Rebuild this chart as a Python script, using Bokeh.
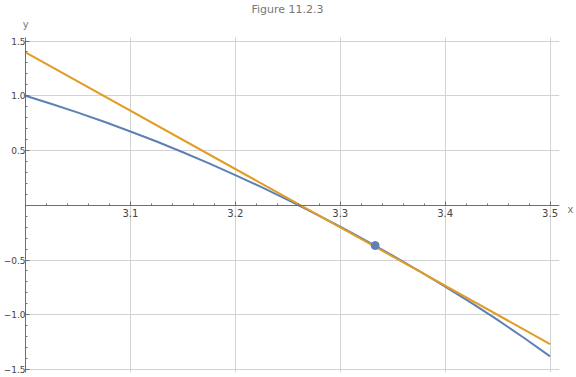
from bokeh.plotting import figure
from bokeh.models import Range1d, FixedTicker, Title, LinearAxis
from bokeh.embed import file_html
from bokeh.resources import INLINE

# ---- data ----
curve_x = [3.0, 3.025, 3.05, 3.075, 3.1, 3.125, 3.15, 3.175, 3.2, 3.225, 3.25,
           3.275, 3.3, 3.325, 3.35, 3.375, 3.4, 3.425, 3.45, 3.475, 3.5]
curve_y = [1.0, 0.925, 0.846, 0.763, 0.674, 0.582, 0.484, 0.382, 0.276, 0.165, 0.049,
           -0.072, -0.196, -0.326, -0.460, -0.598, -0.742, -0.891, -1.047, -1.210, -1.380]
tangent_x = [3.0, 3.5]
tangent_y = [1.397, -1.267]
point_x = [3.3333]
point_y = [-0.368]

x_major = [3.1, 3.2, 3.3, 3.4, 3.5]
x_major_labels = ["3.1", "3.2", "3.3", "3.4", "3.5"]
x_minor = [3.02, 3.04, 3.06, 3.08, 3.12, 3.14, 3.16, 3.18, 3.22, 3.24, 3.26, 3.28,
           3.32, 3.34, 3.36, 3.38, 3.42, 3.44, 3.46, 3.48]
y_major = [-1.5, -1.0, -0.5, 0.5, 1.0, 1.5]
y_major_labels = ["\u22121.5", "\u22121.0", "\u22120.5", "0.5", "1.0", "1.5"]
y_minor = [-1.4, -1.3, -1.2, -1.1, -0.9, -0.8, -0.7, -0.6, -0.4, -0.3, -0.2, -0.1,
           0.1, 0.2, 0.3, 0.4, 0.6, 0.7, 0.8, 0.9, 1.1, 1.2, 1.3, 1.4]

title_text = "Figure 11.2.3"
x_label = "x"
y_label = "y"

BLUE = "#5E81B5"
ORANGE = "#E19C24"
AXIS = "#6e6e6e"
GRID = "#d2d2d2"
FONT = "DejaVu Sans"

p = figure(width=576, height=377, output_backend="svg", toolbar_location=None,
           x_range=Range1d(3.0, 3.509), y_range=Range1d(-1.527, 1.532),
           min_border_left=24, min_border_right=16, min_border_top=35,
           min_border_bottom=5)
p.outline_line_color = None
p.background_fill_color = "white"
p.border_fill_color = "white"

# axes crossing like Mathematica (x axis at y = 0, y axis on the left edge x = 3.0)
xa = p.xaxis[0]
ya = p.yaxis[0]
xa.fixed_location = 0
xa.ticker = FixedTicker(ticks=x_major, minor_ticks=x_minor)
ya.ticker = FixedTicker(ticks=y_major, minor_ticks=y_minor)
xa.major_label_overrides = dict(zip(x_major, x_major_labels))
ya.major_label_overrides = dict(zip(y_major, y_major_labels))
for ax in (xa, ya):
    ax.axis_line_color = AXIS
    ax.axis_line_width = 1
    ax.major_tick_line_color = AXIS
    ax.minor_tick_line_color = AXIS
    ax.major_tick_in = 4
    ax.major_tick_out = 0
    ax.minor_tick_in = 2
    ax.minor_tick_out = 0
    ax.major_label_text_font = FONT
    ax.major_label_text_color = "#444444"
xa.major_label_text_font_size = "10px"
ya.major_label_text_font_size = "9px"
xa.major_label_standoff = 4
ya.major_label_standoff = 0

# "x" label at the right end of the x axis
xlab_axis = LinearAxis(ticker=FixedTicker(ticks=[-0.035]),
                       major_label_overrides={-0.035: x_label},
                       axis_line_color=None, major_tick_line_color=None,
                       minor_tick_line_color=None, major_tick_in=0, major_tick_out=0,
                       major_label_standoff=8, major_label_text_font=FONT,
                       major_label_text_font_size="10px",
                       major_label_text_color="#777777")
p.add_layout(xlab_axis, "right")

# "y" label at the top end of the y axis
ylab_axis = LinearAxis(ticker=FixedTicker(ticks=[3.0001]),
                       major_label_overrides={3.0001: y_label},
                       axis_line_color=None, major_tick_line_color=None,
                       minor_tick_line_color=None, major_tick_in=0, major_tick_out=0,
                       major_label_standoff=8, major_label_text_font=FONT,
                       major_label_text_font_size="10px",
                       major_label_text_line_height=0.8,
                       major_label_text_color="#777777")
p.add_layout(ylab_axis, "above")

p.xgrid.ticker = FixedTicker(ticks=x_major)
p.ygrid.ticker = FixedTicker(ticks=y_major)
for g in (p.xgrid, p.ygrid):
    g.grid_line_color = GRID
    g.grid_line_width = 1

p.line(curve_x, curve_y, line_color=BLUE, line_width=2)
p.line(tangent_x, tangent_y, line_color=ORANGE, line_width=2)
p.scatter(point_x, point_y, size=8, fill_color=BLUE, line_color=BLUE)

p.add_layout(Title(text=title_text, align="left", offset=226, standoff=0,
                   text_font=FONT, text_font_size="11px", text_font_style="normal",
                   text_line_height=0.6, text_color="#777777"), "above")

open("out.html", "w").write(file_html(p, INLINE))
